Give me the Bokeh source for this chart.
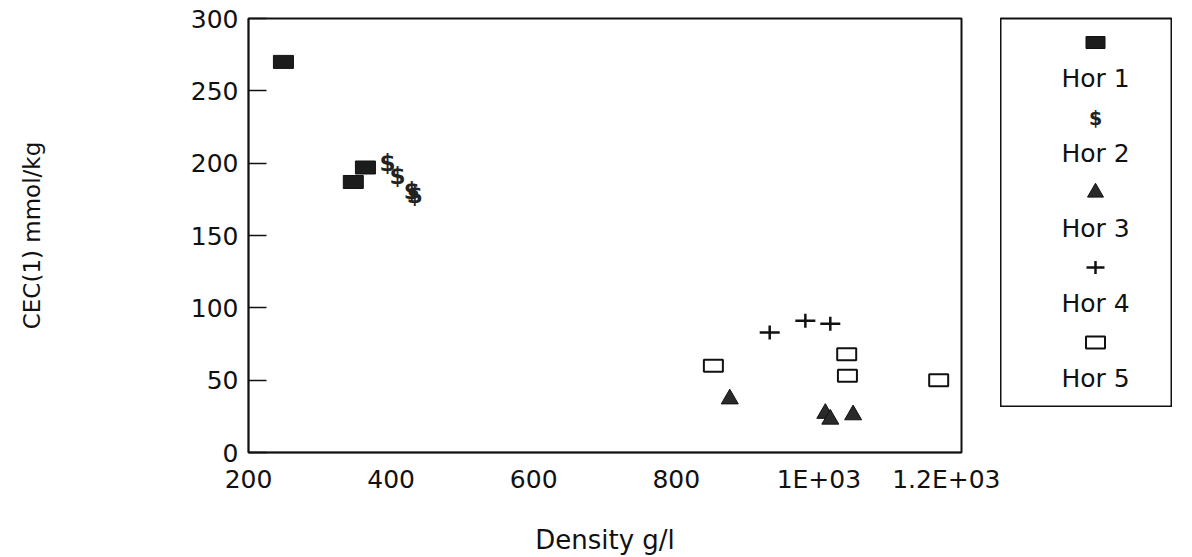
from bokeh.plotting import figure
from bokeh.layouts import row
from bokeh.models import FixedTicker, Range1d
from bokeh.core.properties import value
from bokeh.embed import file_html
from bokeh.resources import INLINE

# ---- data ----
series_names = ["Hor 1", "Hor 2", "Hor 3", "Hor 4", "Hor 5"]
hor1_x = [249, 364, 347]
hor1_y = [270, 197, 187]
hor2_x = [395, 409, 429, 433]
hor2_y = [200, 191, 181, 178]
hor3_x = [875, 1009, 1016, 1048]
hor3_y = [37, 27, 23, 26]
hor4_x = [931, 981, 1016]
hor4_y = [83, 91, 89]
hor5_x = [852, 1039, 1040, 1168]
hor5_y = [60, 68, 53, 50]
x_ticks = [200, 400, 600, 800, 1000, 1200]
x_tick_labels = ["200", "400", "600", "800", "1E+03", "1.2E+03"]
y_ticks = [0, 50, 100, 150, 200, 250, 300]

FONT = "DejaVu Sans"
INK = "#111111"

p = figure(frame_width=713, frame_height=434, output_backend="svg", toolbar_location=None,
           x_range=Range1d(200, 1200), y_range=Range1d(0, 300),
           min_border_left=248, min_border_right=39, min_border_top=17, min_border_bottom=0)
p.xgrid.visible = False
p.ygrid.visible = False
p.outline_line_color = INK
p.outline_line_width = 2
p.background_fill_color = "white"
p.border_fill_color = "white"

p.xaxis.ticker = FixedTicker(ticks=x_ticks)
p.xaxis.major_label_overrides = {t: l for t, l in zip(x_ticks, x_tick_labels)}
p.yaxis.ticker = FixedTicker(ticks=y_ticks)
for ax in (p.xaxis, p.yaxis):
    ax.major_label_text_font = FONT
    ax.major_label_text_font_size = "25px"
    ax.major_label_text_color = INK
    ax.axis_label_text_font = FONT
    ax.axis_label_text_font_style = "normal"
    ax.axis_label_text_color = INK
    ax.axis_line_color = INK
    ax.axis_line_width = 1.5
    ax.minor_tick_line_color = None
    ax.major_tick_line_color = INK
    ax.major_tick_line_width = 1.5
p.xaxis.major_tick_in = 0
p.xaxis.major_tick_out = 0
p.yaxis.major_tick_in = 18
p.yaxis.major_tick_out = 0
p.xaxis.major_label_standoff = 12
p.yaxis.major_label_standoff = 10
p.xaxis.axis_label = "Density g/l"
p.xaxis.axis_label_text_font_size = "26px"
p.xaxis.axis_label_standoff = 28
p.yaxis.axis_label = "CEC(1) mmol/kg"
p.yaxis.axis_label_text_font_size = "23px"
p.yaxis.axis_label_standoff = 143

# Hor 1: filled rectangles
p.rect(hor1_x, hor1_y, width=20, height=13, width_units="screen", height_units="screen",
       fill_color="#1c1c1c", line_color=INK, line_width=1)
# Hor 2: "$" symbols
p.text(hor2_x, hor2_y, text=["$"] * len(hor2_x), text_font=value(FONT),
       text_font_style="bold", text_font_size="23px", text_color="#222222",
       text_align="center", text_baseline="middle")
# Hor 3: filled triangles
p.scatter(hor3_x, hor3_y, marker="triangle", size=17, fill_color="#2a2a2a", line_color=INK)
# Hor 4: plus signs (wider than tall)
p.scatter(hor4_x, hor4_y, marker="dash", size=20, line_color=INK, line_width=2.5)
p.scatter(hor4_x, hor4_y, marker="dash", size=14, angle=1.5708, line_color=INK, line_width=2.5)
# Hor 5: open rectangles
p.rect(hor5_x, hor5_y, width=19, height=12, width_units="screen", height_units="screen",
       fill_color="white", line_color=INK, line_width=2)

# ---- legend as a separate boxed panel ----
lg = figure(frame_width=172, frame_height=389, output_backend="svg", toolbar_location=None,
            x_range=Range1d(0, 172), y_range=Range1d(389, 0),
            x_axis_location=None, y_axis_location=None,
            min_border_left=0, min_border_right=0, min_border_top=18, min_border_bottom=0)
lg.xgrid.visible = False
lg.ygrid.visible = False
lg.outline_line_color = INK
lg.outline_line_width = 2

n = len(series_names)
cx = [95] * n
marker_y = [24 + 75 * i for i in range(n)]
label_y = [60 + 75 * i for i in range(n)]
lg.text(cx, label_y, text=series_names, text_font=value(FONT), text_font_size="25px",
        text_color=INK, text_align="center", text_baseline="middle")
lg.rect(cx[0:1], marker_y[0:1], width=19, height=12, width_units="screen", height_units="screen",
        fill_color="#1c1c1c", line_color=INK)
lg.text(cx[1:2], marker_y[1:2], text=["$"], text_font=value(FONT), text_font_style="bold",
        text_font_size="19px", text_color="#222222", text_align="center", text_baseline="middle")
lg.scatter(cx[2:3], marker_y[2:3], marker="triangle", size=16, fill_color="#2a2a2a", line_color=INK)
lg.scatter(cx[3:4], marker_y[3:4], marker="dash", size=18, line_color=INK, line_width=2.5)
lg.scatter(cx[3:4], marker_y[3:4], marker="dash", size=13, angle=1.5708, line_color=INK, line_width=2.5)
lg.rect(cx[4:5], marker_y[4:5], width=19, height=12, width_units="screen", height_units="screen",
        fill_color="white", line_color=INK, line_width=2)

layout = row(p, lg)
open("out.html", "w").write(file_html(layout, INLINE))
